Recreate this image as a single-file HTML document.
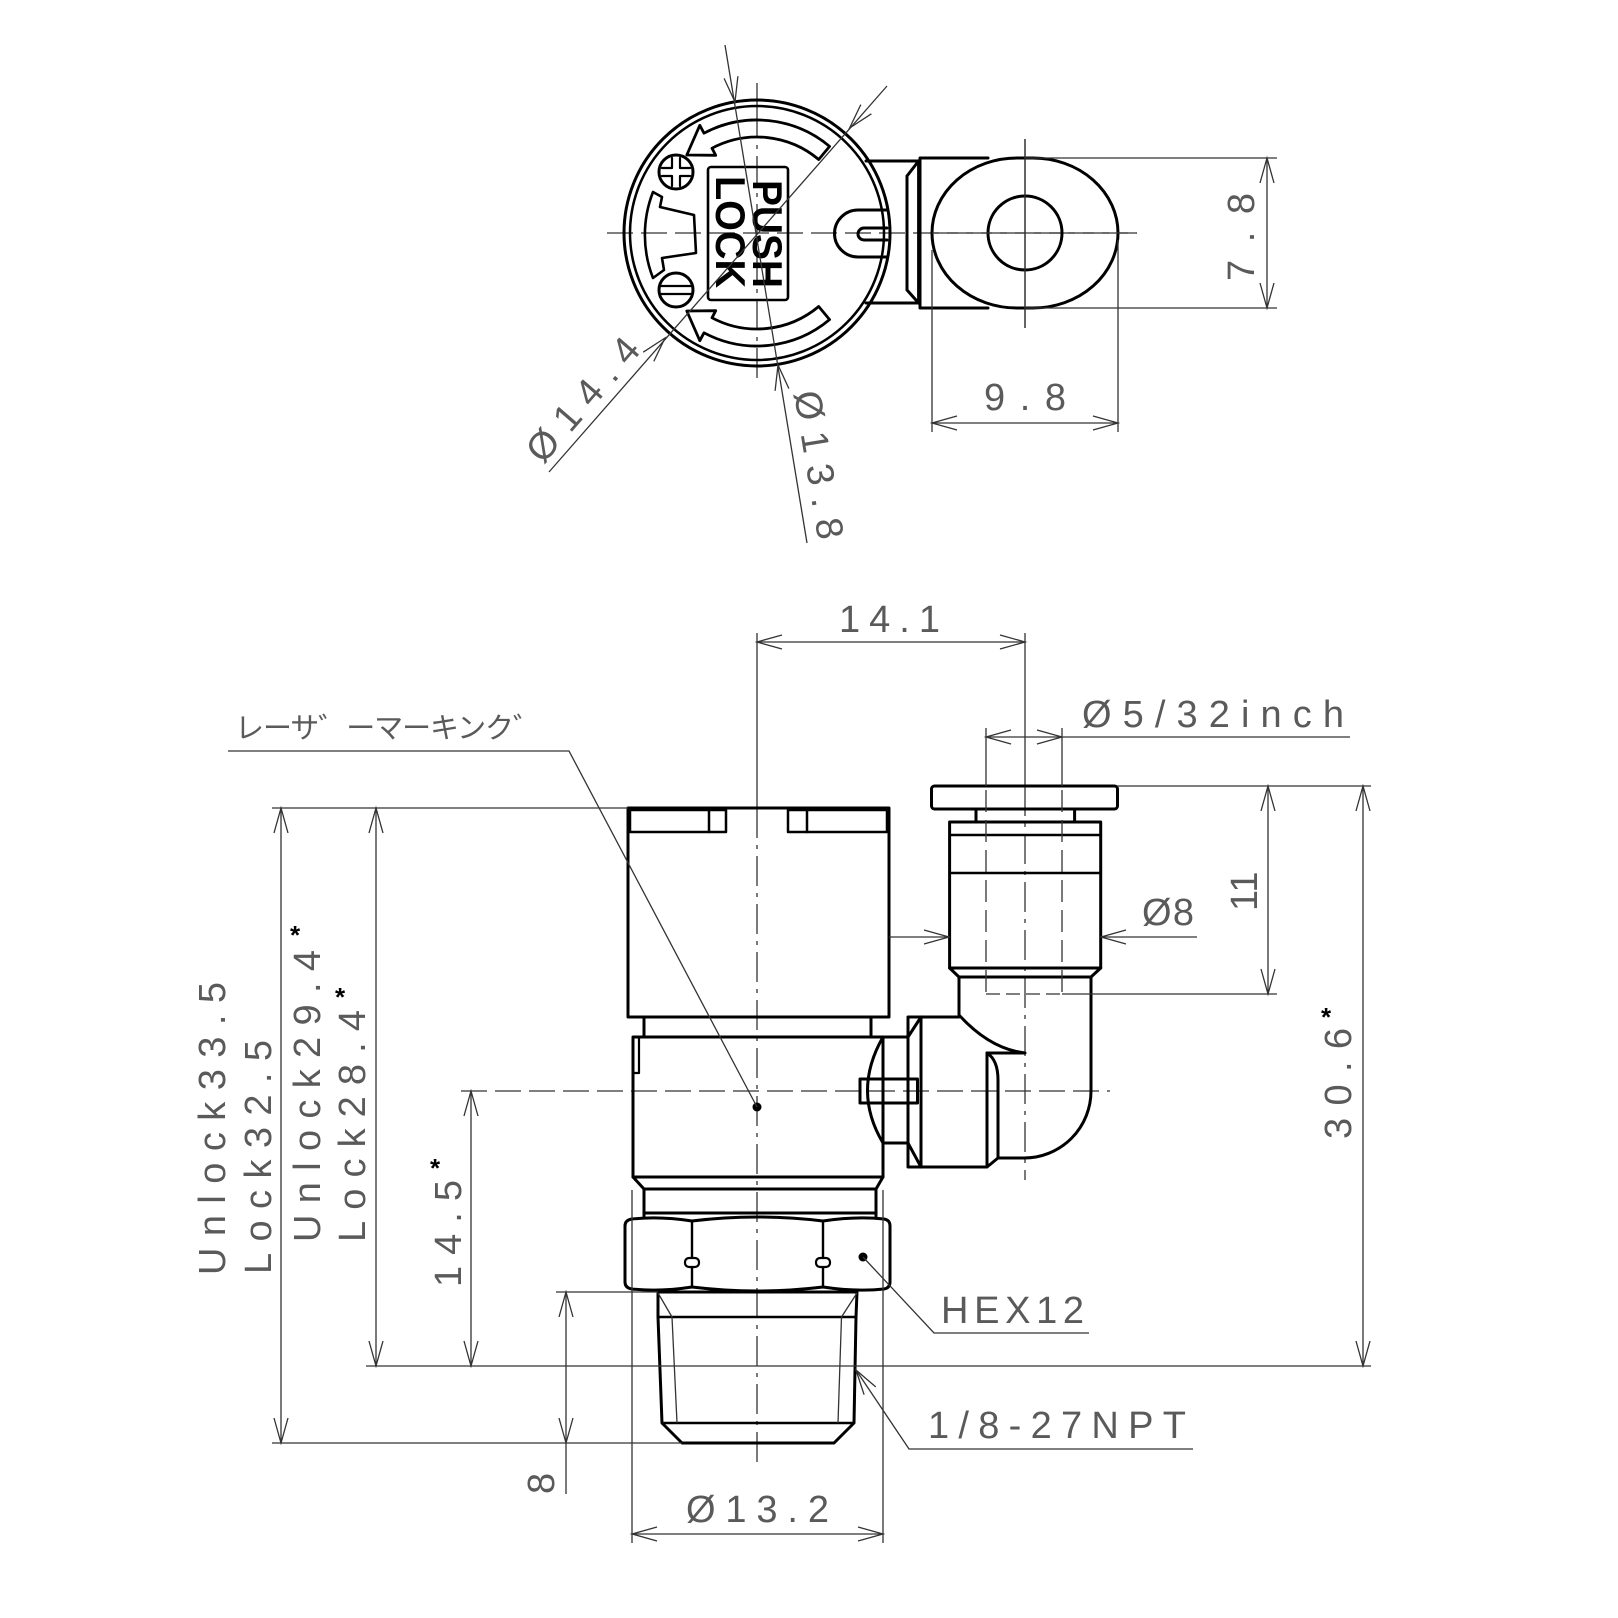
<!DOCTYPE html>
<html><head><meta charset="utf-8"><style>
html,body{margin:0;padding:0;background:#fff}
svg{display:block}
.t{fill:none;stroke:#000;stroke-width:3;stroke-linejoin:round;stroke-linecap:round}
.n{fill:none;stroke:#333;stroke-width:1.3}
.d{fill:none;stroke:#333;stroke-width:1.3;stroke-dasharray:26 8}
.c{fill:none;stroke:#333;stroke-width:1.3;stroke-dasharray:30 7 4 7}
.tx{font-family:"Liberation Sans","Noto Sans CJK JP",sans-serif;font-size:38px;fill:#5a5a5a}
.st{font-family:"Liberation Sans",sans-serif;font-size:26px;font-weight:bold;fill:#000}
</style></head><body>
<svg width="1618" height="1618" viewBox="0 0 1618 1618" xmlns="http://www.w3.org/2000/svg">
<rect width="1618" height="1618" fill="#fff"/>

<line class="d" x1="607" y1="233" x2="1137" y2="233"/>
<line class="n" x1="757" y1="83" x2="757" y2="108"/>
<line class="c" x1="757" y1="108" x2="757" y2="385"/>
<line class="n" x1="1025" y1="139" x2="1025" y2="328"/>

<circle class="t" cx="757" cy="233" r="133"/>
<circle class="t" cx="757" cy="233" r="127" style="stroke-width:2.5"/>
<path class="t" d="M866 161 L918.6 161 L918.6 303 L866 303"/>
<path class="t" d="M907 176 L907 290 M907 176 L918.6 161 M907 290 L918.6 303"/>
<path class="t" d="M887 210 L858 210 A23 23 0 0 0 858 257 L887 257"/>
<path class="t" d="M887 228 L864 228 A6 6 0 0 0 864 240 L887 240"/>
<path class="t" d="M988 158 L920 158 L920 308 L988 308"/>
<rect class="t" x="932" y="158" width="186" height="150" rx="85" ry="75" fill="#fff"/>
<circle class="t" cx="1025" cy="233" r="37"/>
<line class="n" x1="1025" y1="139" x2="1025" y2="328"/>
<line class="d" x1="932" y1="233" x2="1137" y2="233"/>

<path class="t" style="stroke-width:2.8" d="M829.6 146.4 A113 113 0 0 0 704 133.2 L699.8 125.3 L686.8 155 L715.7 155.3 L712 148.2 A96 96 0 0 1 818.7 159.5 Z"/>
<path class="t" style="stroke-width:2.8" d="M829.6 319.6 A113 113 0 0 1 704 332.8 L699.8 340.7 L686.8 311 L715.7 310.7 L712 317.8 A96 96 0 0 0 818.7 306.5 Z"/>
<circle class="t" cx="676" cy="172" r="17"/>
<path class="t" style="stroke-width:2.2" d="M672 158 L672 168 L662 168 M680 158 L680 168 L690 168 M662 176 L672 176 L672 186 M690 176 L680 176 L680 186"/>
<circle class="t" cx="676" cy="290" r="17"/>
<path class="t" style="stroke-width:2.2" d="M660 286 L692 286 M660 294 L692 294"/>
<path class="t" style="stroke-width:2.6" d="M653 192 L662 197 L660 207 L694 215 L696 253 L662 258 L664 270 L653 278 A118 118 0 0 1 653 192 Z"/>
<rect class="t" x="708" y="167" width="80" height="133" rx="3" style="stroke-width:2.6"/>
<text x="753" y="180" transform="rotate(90 753 180)" font-family="Liberation Sans,sans-serif" font-weight="bold" font-size="42" textLength="108" lengthAdjust="spacingAndGlyphs" fill="#000">PUSH</text>
<text x="716" y="176" transform="rotate(90 716 176)" font-family="Liberation Sans,sans-serif" font-weight="bold" font-size="42" textLength="112" lengthAdjust="spacingAndGlyphs" fill="#000">LOCK</text>

<line class="n" x1="887" y1="86" x2="549" y2="472"/>
<polyline class="n" points="871.4,113.8 849.6,128 860.8,104.6"/>
<polyline class="n" points="653.8,361.4 665,338 643.2,352.2"/>
<text class="tx" x="543" y="465" transform="rotate(-49 543 465)" textLength="151" lengthAdjust="spacing">Ø14.4</text>
<line class="n" x1="725" y1="45" x2="807" y2="543"/>
<polyline class="n" points="737.9,76.2 735,102 724.1,78.4"/>
<polyline class="n" points="788.9,388.6 778,365 775.1,390.8"/>
<text class="tx" x="794" y="393" transform="rotate(80.7 794 393)" textLength="150" lengthAdjust="spacing">Ø13.8</text>

<line class="n" x1="1025" y1="158" x2="1277" y2="158"/>
<line class="n" x1="1025" y1="308" x2="1277" y2="308"/>
<line class="n" x1="1267" y1="158" x2="1267" y2="308"/>
<polyline class="n" points="1260,183 1267,158 1274,183"/>
<polyline class="n" points="1260,283 1267,308 1274,283"/>
<text class="tx" x="1254" y="281" transform="rotate(-90 1254 281)" textLength="88" lengthAdjust="spacing">7.8</text>
<line class="n" x1="932" y1="250" x2="932" y2="432"/>
<line class="n" x1="1118" y1="240" x2="1118" y2="432"/>
<line class="n" x1="932" y1="423" x2="1118" y2="423"/>
<polyline class="n" points="957,416 932,423 957,430"/>
<polyline class="n" points="1093,416 1118,423 1093,430"/>
<text class="tx" x="984" y="410" textLength="82" lengthAdjust="spacing">9.8</text>

<line class="n" x1="757" y1="633" x2="757" y2="808"/>
<line class="c" x1="757" y1="808" x2="757" y2="1462"/>
<line class="n" x1="1025" y1="633" x2="1025" y2="786"/>
<line class="c" x1="1025" y1="786" x2="1025" y2="1180"/>
<line class="d" x1="461" y1="1091" x2="1110" y2="1091"/>

<rect class="t" x="628" y="808" width="261" height="209"/>
<rect class="t" x="630" y="810" width="96" height="22" style="stroke-width:2.5"/>
<line class="t" x1="709" y1="810" x2="709" y2="832" style="stroke-width:2.5"/>
<rect class="t" x="788" y="810" width="99" height="22" style="stroke-width:2.5"/>
<line class="t" x1="807" y1="810" x2="807" y2="832" style="stroke-width:2.5"/>
<path class="t" d="M644 1017 L644 1037 M871 1017 L871 1037"/>
<rect class="t" x="633" y="1037" width="250" height="140"/>
<path class="t" style="stroke-width:2.2" d="M633 1037 L639 1037 L639 1073 L633 1073"/>
<path class="t" d="M633 1177 L644 1189 L876 1189 L883 1177"/>
<path class="t" d="M644 1189 L644 1213 L876 1213 L876 1189"/>
<line class="t" x1="644" y1="1213" x2="644" y2="1218"/>
<line class="t" x1="876" y1="1213" x2="876" y2="1218"/>
<path class="t" d="M625 1226 Q625 1220 632 1219 Q660 1216 692 1221 Q757 1213 823 1221 Q856 1216 884 1219 Q890 1220 890 1226 L890 1282 Q890 1288 884 1289 Q856 1292 823 1287 Q757 1295 692 1287 Q660 1292 632 1289 Q625 1288 625 1282 Z"/>
<path class="t" style="stroke-width:2.4" d="M692 1221 L692 1287 M823 1221 L823 1287"/>
<rect x="685" y="1258" width="14" height="9" rx="4" fill="#fff" stroke="#000" stroke-width="2.2"/>
<rect x="816" y="1258" width="14" height="9" rx="4" fill="#fff" stroke="#000" stroke-width="2.2"/>
<circle cx="863" cy="1257" r="4.5" fill="#000"/>
<path class="t" d="M658 1292 L857 1292 L856 1317 L854 1423 L834 1443 L682 1443 L662 1423 L658 1317 Z"/>
<path class="t" style="stroke-width:2.6" d="M658 1317 L856 1317 M662 1423 L854 1423"/>
<path class="n" d="M658 1293 L672 1317 L677 1423 M857 1293 L841.5 1317 L838 1423"/>

<rect class="t" x="931.5" y="786" width="186" height="23" rx="3"/>
<path class="t" d="M976 809 L976 822 M1074.6 809 L1074.6 822"/>
<rect class="t" x="949.6" y="822" width="151.1" height="146"/>
<path class="t" style="stroke-width:2.4" d="M949.6 835 L1100.7 835 M949.6 873 L1100.7 873"/>
<path class="t" d="M949.6 968 L959 977 L1091 977 L1100.7 968"/>
<path class="t" d="M1091 977 L1091 1091 A67 67 0 0 1 1024 1158 L998 1158"/>
<path class="t" d="M959 977 L959 1015 Q990 1049 1025 1053 M987 1053 L1025 1053"/>
<path class="t" d="M959 1017 L921 1017 L921 1167 L987 1167 L998 1158 M987 1053 L987 1167 M987 1053 Q998 1060 998 1080 L998 1158"/>
<path class="t" d="M908 1017 L921 1017 M908 1017 L908 1167 L921 1167 M908 1037 L921 1017 M908 1143 L921 1167"/>
<path class="t" d="M883 1037 L908 1037 M883 1143 L908 1143 M883 1037 Q852 1091 883 1143"/>
<rect class="t" x="860" y="1079" width="57.5" height="24" fill="#fff"/>
<circle cx="757" cy="1107" r="4.5" fill="#000"/>

<line class="n" x1="986" y1="728" x2="986" y2="786"/>
<line class="n" x1="1062" y1="728" x2="1062" y2="786"/>
<line class="d" x1="986" y1="790" x2="986" y2="994" style="stroke-dasharray:22 8"/>
<line class="d" x1="1062" y1="790" x2="1062" y2="994" style="stroke-dasharray:22 8"/>
<line class="d" x1="986" y1="994" x2="1062" y2="994" style="stroke-dasharray:14 6"/>
<line class="n" x1="1062" y1="994" x2="1277" y2="994"/>

<line class="n" x1="757" y1="642" x2="1025" y2="642"/>
<polyline class="n" points="782,635 757,642 782,649"/>
<polyline class="n" points="1000,635 1025,642 1000,649"/>
<text class="tx" x="839" y="632" textLength="101" lengthAdjust="spacing">14.1</text>
<line class="n" x1="986" y1="737" x2="1350" y2="737"/>
<polyline class="n" points="1011,730 986,737 1011,744"/>
<polyline class="n" points="1037,730 1062,737 1037,744"/>
<text class="tx" x="1082" y="727" textLength="262" lengthAdjust="spacing">Ø5/32inch</text>
<line class="n" x1="889" y1="937" x2="949" y2="937"/>
<line class="n" x1="1101" y1="937" x2="1197" y2="937"/>
<polyline class="n" points="924,930 949,937 924,944"/>
<polyline class="n" points="1126,930 1101,937 1126,944"/>
<text class="tx" x="1142" y="925" textLength="52" lengthAdjust="spacing">Ø8</text>
<line class="n" x1="1117" y1="786" x2="1371" y2="786"/>
<line class="n" x1="1268" y1="786" x2="1268" y2="994"/>
<polyline class="n" points="1261,811 1268,786 1275,811"/>
<polyline class="n" points="1261,969 1268,994 1275,969"/>
<text class="tx" x="1257" y="911" transform="rotate(-90 1257 911)">11</text>
<line class="n" x1="1363" y1="786" x2="1363" y2="1366"/>
<polyline class="n" points="1356,811 1363,786 1370,811"/>
<polyline class="n" points="1356,1341 1363,1366 1370,1341"/>
<text class="tx" x="1351" y="1139" transform="rotate(-90 1351 1139)" textLength="111" lengthAdjust="spacing">30.6</text>
<text class="st" x="1326" y="1026" text-anchor="middle">*</text>

<line class="n" x1="272" y1="808" x2="628" y2="808"/>
<line class="n" x1="366" y1="1366" x2="1371" y2="1366"/>
<line class="n" x1="272" y1="1443" x2="682" y2="1443"/>
<line class="n" x1="556" y1="1292" x2="658" y2="1292"/>
<line class="n" x1="281" y1="808" x2="281" y2="1443"/>
<polyline class="n" points="274,833 281,808 288,833"/>
<polyline class="n" points="274,1418 281,1443 288,1418"/>
<text class="tx" x="225" y="1275" transform="rotate(-90 225 1275)" textLength="293" lengthAdjust="spacing">Unlock33.5</text>
<text class="tx" x="271" y="1274" transform="rotate(-90 271 1274)" textLength="234" lengthAdjust="spacing">Lock32.5</text>
<line class="n" x1="376" y1="808" x2="376" y2="1366"/>
<polyline class="n" points="369,833 376,808 383,833"/>
<polyline class="n" points="369,1341 376,1366 383,1341"/>
<text class="tx" x="320" y="1242" transform="rotate(-90 320 1242)" textLength="292" lengthAdjust="spacing">Unlock29.4</text>
<text class="st" x="295" y="944" text-anchor="middle">*</text>
<text class="tx" x="365" y="1242" transform="rotate(-90 365 1242)" textLength="232" lengthAdjust="spacing">Lock28.4</text>
<text class="st" x="340" y="1006" text-anchor="middle">*</text>
<line class="n" x1="471" y1="1091" x2="471" y2="1366"/>
<polyline class="n" points="464,1116 471,1091 478,1116"/>
<polyline class="n" points="464,1341 471,1366 478,1341"/>
<text class="tx" x="461" y="1287" transform="rotate(-90 461 1287)" textLength="107" lengthAdjust="spacing">14.5</text>
<text class="st" x="435" y="1177" text-anchor="middle">*</text>
<line class="n" x1="566" y1="1292" x2="566" y2="1494"/>
<polyline class="n" points="559,1317 566,1292 573,1317"/>
<polyline class="n" points="559,1418 566,1443 573,1418"/>
<text class="tx" x="554" y="1494" transform="rotate(-90 554 1494)">8</text>
<line class="n" x1="632" y1="1190" x2="632" y2="1543"/>
<line class="n" x1="883" y1="1190" x2="883" y2="1543"/>
<line class="n" x1="632" y1="1534" x2="883" y2="1534"/>
<polyline class="n" points="657,1527 632,1534 657,1541"/>
<polyline class="n" points="858,1527 883,1534 858,1541"/>
<text class="tx" x="686" y="1522" textLength="143" lengthAdjust="spacing">Ø13.2</text>

<text class="tx" x="235" y="738" style="font-size:29px" textLength="307" lengthAdjust="spacing">レーサ゛ーマーキンク゛</text>
<polyline class="n" points="228,751 569,751 757,1107"/>
<polyline class="n" points="863,1257 934,1333 1089,1333"/>
<text class="tx" x="941" y="1323" textLength="143" lengthAdjust="spacing">HEX12</text>
<polyline class="n" points="856,1370 909,1449 1193,1449"/>
<polyline class="n" points="875.7,1386.9 856,1370 864.1,1394.7"/>
<text class="tx" x="928" y="1438" textLength="258" lengthAdjust="spacing">1/8-27NPT</text>
</svg>
</body></html>
